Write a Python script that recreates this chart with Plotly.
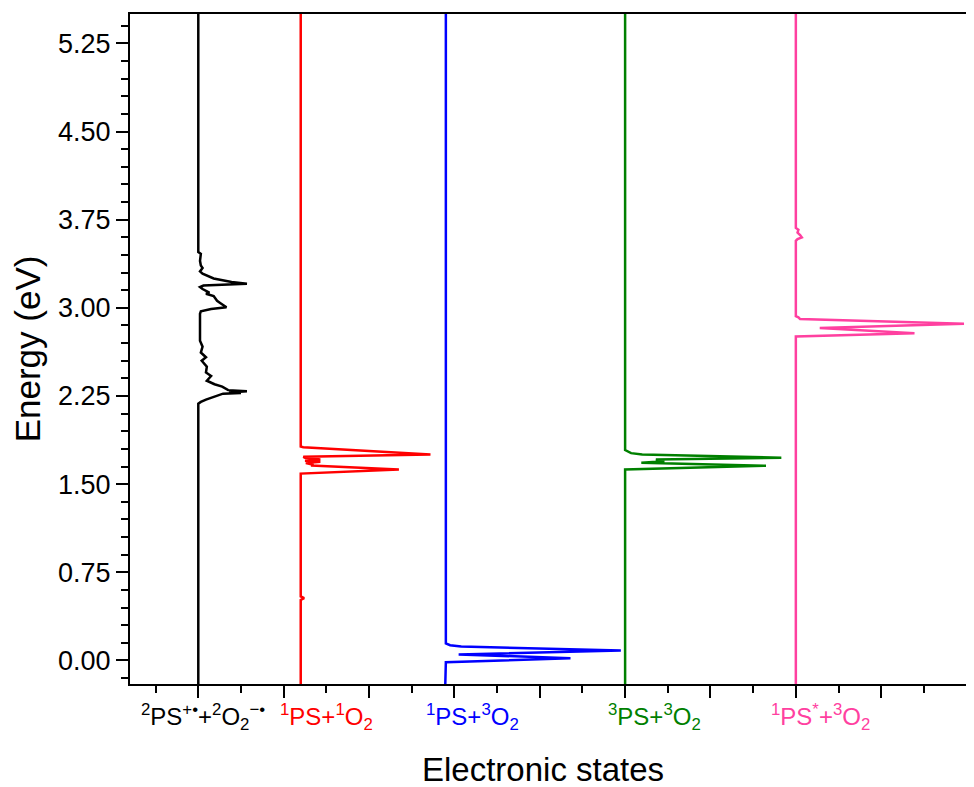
import plotly.graph_objects as go

# ---- data -------------------------------------------------------------
state_labels = [
    "<sup>2</sup>PS<sup>+•</sup>+<sup>2</sup>O<sub>2</sub><sup>−•</sup>",
    "<sup>1</sup>PS+<sup>1</sup>O<sub>2</sub>",
    "<sup>1</sup>PS+<sup>3</sup>O<sub>2</sub>",
    "<sup>3</sup>PS+<sup>3</sup>O<sub>2</sub>",
    "<sup>1</sup>PS<sup>*</sup>+<sup>3</sup>O<sub>2</sub>",
]
state_offsets = [0.0, 1.2, 2.9, 5.0, 7.0]

black_E = [5.6, 3.475, 3.46, 3.40, 3.36, 3.34, 3.31, 3.29, 3.25, 3.22, 3.205, 3.19, 3.177,
           3.16, 3.13, 3.12, 3.10, 3.06, 3.04, 3.005, 2.99, 2.97, 2.95, 2.80, 2.72, 2.67,
           2.62, 2.58, 2.55, 2.50, 2.45, 2.42, 2.38, 2.35, 2.33, 2.30, 2.29, 2.28, 2.275,
           2.27, 2.25, 2.22, 2.20, 2.185, -0.3]
black_I = [0, 0, 0.03, 0.02, 0.03, 0.05, 0.02, 0.05, 0.18, 0.39, 0.57, 0.06, 0.02,
           0.05, 0.13, 0.09, 0.18, 0.22, 0.26, 0.33, 0.15, 0.03, 0.02, 0.02, 0.02, 0.05,
           0.03, 0.09, 0.04, 0.10, 0.09, 0.15, 0.10, 0.19, 0.28, 0.35, 0.57, 0.36, 0.50,
           0.29, 0.20, 0.09, 0.03, 0, 0]

red_E = [5.6, 1.82, 1.815, 1.753, 1.733, 1.725, 1.71, 1.70, 1.69, 1.68, 1.665, 1.659,
         1.625, 1.597, 1.59, 0.545, 0.53, 0.515, -0.3]
red_I = [0, 0, 0.03, 1.52, 0.03, 0.05, 0.23, 0.05, 0.23, 0.06, 0.15, 0.12,
         1.15, 0.03, 0, 0, 0.04, 0, 0]

blue_E = [5.6, 0.145, 0.13, 0.119, 0.085, 0.051, 0.020, -0.01, -0.015, -0.3]
blue_I = [0, 0, 0.05, 0.18, 2.05, 0.15, 1.46, 0.06, 0, -0.01]

green_E = [5.6, 1.79, 1.764, 1.753, 1.725, 1.71, 1.696, 1.682, 1.657, 1.625, -0.3]
green_I = [0, 0, 0.07, 0.20, 1.83, 0.36, 0.46, 0.19, 1.65, 0, 0]

pink_E = [5.6, 3.68, 3.665, 3.64, 3.62, 3.60, 3.585, 3.57, 2.93, 2.92, 2.905, 2.865,
          2.828, 2.785, 2.757, -0.3]
pink_I = [0, 0, 0.03, 0.02, 0.05, 0.07, 0.02, 0, 0, 0.03, 0.05, 1.97,
          0.28, 1.39, 0, 0]

series_E = [black_E, red_E, blue_E, green_E, pink_E]
series_I = [black_I, red_I, blue_I, green_I, pink_I]
colors = ["#000000", "#FF0000", "#0000FF", "#008000", "#FF40A0"]

# label centres (paper fraction along x axis)
label_pos = [0.087, 0.233, 0.406, 0.621, 0.818]

# ---- figure ------------------------------------------------------------
FONT = "Arial, Liberation Sans, sans-serif"
fig = go.Figure()
for E, I, off, c in zip(series_E, series_I, state_offsets, colors):
    fig.add_trace(go.Scatter(x=[off + v for v in I], y=E, mode="lines",
                             line=dict(color=c, width=2.5), showlegend=False,
                             hoverinfo="skip"))

for lab, xp, c in zip(state_labels, label_pos, colors):
    fig.add_annotation(text=lab, x=xp, y=-0.049, xref="paper", yref="paper",
                       showarrow=False, xanchor="center", yanchor="middle",
                       font=dict(family=FONT, size=24, color=c))

fig.add_annotation(text="Electronic states", x=0.489, y=-0.128, xref="paper", yref="paper",
                   showarrow=False, xanchor="center", yanchor="middle",
                   font=dict(family=FONT, size=33, color="black"))

fig.update_xaxes(range=[-0.8, 9.087], showline=True, linecolor="black", linewidth=2,
                 mirror=True, ticks="outside", ticklen=12, tickwidth=2, tickcolor="black",
                 tick0=0, dtick=1, showticklabels=False, showgrid=False, zeroline=False,
                 minor=dict(dtick=0.5, tick0=0, ticks="outside", ticklen=7, tickwidth=2,
                            tickcolor="black", showgrid=False))
fig.update_yaxes(range=[-0.2, 5.5], showline=True, linecolor="black", linewidth=2,
                 mirror=False, ticks="outside", ticklen=12, tickwidth=2, tickcolor="black",
                 tick0=0, dtick=0.75, tickformat=".2f", showgrid=False, zeroline=False,
                 tickfont=dict(family=FONT, size=27, color="black"),
                 title=dict(text="Energy (eV)", font=dict(family=FONT, size=35, color="black"),
                            standoff=8),
                 minor=dict(dtick=0.15, tick0=0, ticks="outside", ticklen=7, tickwidth=2,
                            tickcolor="black", showgrid=False))

fig.update_layout(width=966, height=779, margin=dict(l=122, r=0, t=6, b=103),
                  plot_bgcolor="white", paper_bgcolor="white")

fig.write_html("out.html")
